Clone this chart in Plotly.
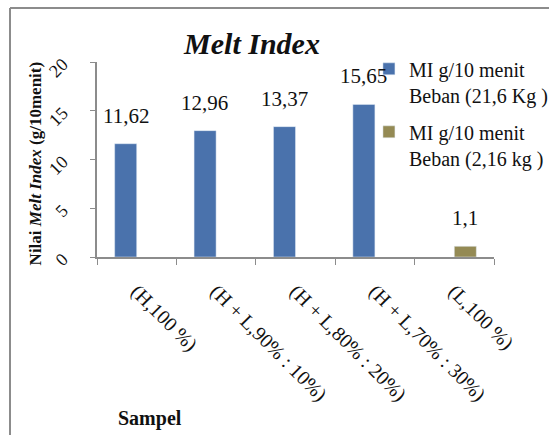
import plotly.graph_objects as go

# Sample categories and melt index values (g/10 menit)
samples = ["(H,100 %)", "(H + L,90% : 10%)", "(H + L,80% : 20%)",
           "(H + L,70% : 30%)", "(L,100 %)"]
mi_216kg = [11.62, 12.96, 13.37, 15.65, None]   # load 21,6 kg
mi_2kg = [None, None, None, None, 1.1]           # load 2,16 kg
series_names = ["MI g/10 menit<br>Beban (21,6 Kg )",
                "MI g/10 menit<br>Beban (2,16 kg )"]
y_ticks = [0, 5, 10, 15, 20]

FONT = "'Liberation Serif', 'Times New Roman', serif"
BLUE = "#4a72ac"
OLIVE = "#948a54"
TXT = "#111111"
GRAY = "#8c8c8c"

fig = go.Figure()
fig.add_trace(go.Bar(x=samples, y=mi_216kg, name=series_names[0],
                     legendgroup="a", marker=dict(color=BLUE)))
fig.add_trace(go.Bar(x=samples, y=mi_2kg, name=series_names[1],
                     legendgroup="b", marker=dict(color=OLIVE)))

# value labels above each bar
def fmt(v):
    return f"{v:g}".replace(".", ",")

annotations = []
for series, shift in ((mi_216kg, -0.5), (mi_2kg, 0.5)):
    for i, v in enumerate(series):
        if v is None:
            continue
        annotations.append(dict(
            x=i + shift * 0.28, y=v, xref="x", yref="y", text=fmt(v),
            showarrow=False, yshift=28, xanchor="center", yanchor="middle",
            font=dict(family=FONT, size=21, color=TXT)))

# axis titles
annotations.append(dict(
    x=-62 / 397, y=0.48, xref="paper", yref="paper", textangle=-90,
    xanchor="center", yanchor="middle",
    text="<b>Nilai <i>Melt Index</i> (g/10menit)</b>", showarrow=False,
    font=dict(family=FONT, size=17, color=TXT)))
annotations.append(dict(
    x=53 / 397, y=-161 / 195, xref="paper", yref="paper", text="<b>Sampel</b>",
    xanchor="center", yanchor="middle",
    showarrow=False, font=dict(family=FONT, size=20, color=TXT)))

# chart frame (left and top edges; the rest runs past the page)
fx0 = -87 / 397
fy1 = 1 + 54 / 195
fig.update_layout(
    width=550, height=436,
    margin=dict(l=97, r=56, t=62, b=179, autoexpand=False),
    paper_bgcolor="white", plot_bgcolor="white",
    barmode="group", bargap=0.445, bargroupgap=0,
    title=dict(text="<b><i>Melt Index</i></b>", x=252 / 550, xanchor="center",
               y=1 - 43 / 436, yanchor="middle",
               font=dict(family=FONT, size=30, color=TXT)),
    legend=dict(x=0.685, y=1.065, xanchor="left", yanchor="top",
                font=dict(family=FONT, size=20, color=TXT),
                bgcolor="rgba(0,0,0,0)", tracegroupgap=8,
                itemwidth=30, valign="top"),
    showlegend=True,
    annotations=annotations,
    shapes=[
        dict(type="line", xref="paper", yref="paper",
             x0=fx0, x1=fx0, y0=-178 / 195, y1=fy1,
             line=dict(color=GRAY, width=2)),
        dict(type="line", xref="paper", yref="paper",
             x0=fx0, x1=452 / 397, y0=fy1, y1=fy1,
             line=dict(color=GRAY, width=2)),
    ],
)

fig.update_xaxes(
    type="category", tickangle=45, tickson="boundaries",
    ticks="outside", ticklen=6, tickcolor=GRAY,
    showline=True, linecolor=GRAY, linewidth=1.5,
    ticklabelstandoff=13, automargin=False,
    tickfont=dict(family=FONT, size=20, color=TXT),
    showgrid=False,
)
fig.update_yaxes(
    range=[0, 20], tickvals=y_ticks, ticktext=[str(t) for t in y_ticks],
    tickangle=-45, ticks="outside", ticklen=5, tickcolor=GRAY,
    showline=True, linecolor=GRAY, linewidth=1.5,
    ticklabelstandoff=24, automargin=False,
    tickfont=dict(family=FONT, size=18, color=TXT),
    showgrid=False, zeroline=False,
)

fig.write_html(
    "out.html",
    post_script="document.documentElement.style.overflow='hidden';"
                "document.body.style.overflow='hidden';",
)
